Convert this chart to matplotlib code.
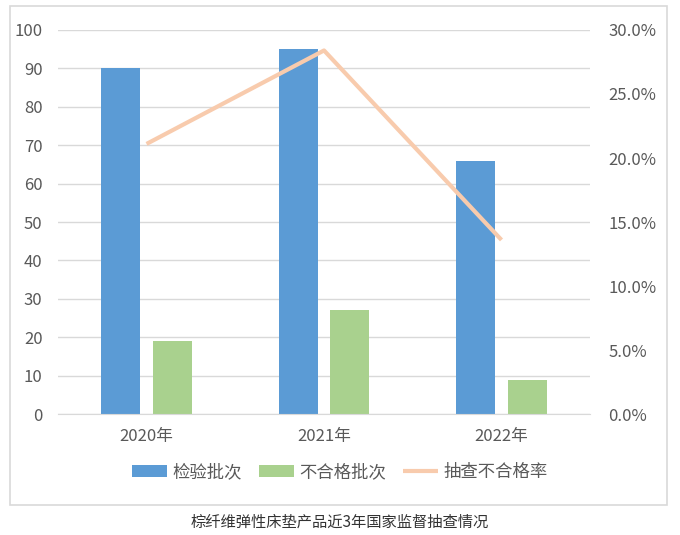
import matplotlib.pyplot as plt
import numpy as np
from matplotlib.patches import Rectangle
from matplotlib.ticker import PercentFormatter

plt.rcParams['font.family'] = ['Noto Sans CJK SC', 'DejaVu Sans']

years = ["2020年", "2021年", "2022年"]
inspected = [90, 95, 66]
failed = [19, 27, 9]
fail_rate = [21.1, 28.4, 13.6]  # %

blue = "#5B9BD5"
green = "#A9D18E"
peach = "#F8CBAD"
text_c = "#595959"
grid_c = "#D9D9D9"

fig = plt.figure(figsize=(6.8, 5.35), dpi=100)
ax = fig.add_axes([0.085, 0.226, 0.783, 0.718])
ax2 = ax.twinx()

x = np.arange(len(years))
w = 0.22
ax.bar(x - 0.145, inspected, w, color=blue, label="检验批次", zorder=2)
ax.bar(x + 0.145, failed, w, color=green, label="不合格批次", zorder=2)
ax2.plot(x, fail_rate, color=peach, lw=3, label="抽查不合格率", solid_capstyle="butt")

ax.set_xlim(-0.5, 2.5)
ax.set_ylim(0, 100)
ax.set_yticks(range(0, 101, 10))
ax2.set_ylim(0, 30)
ax2.set_yticks(range(0, 31, 5))
ax2.yaxis.set_major_formatter(PercentFormatter(decimals=1))
ax.set_xticks(x)
ax.set_xticklabels(years)

ax.grid(axis="y", color=grid_c, lw=1, zorder=0)
for a in (ax, ax2):
    for s in a.spines.values():
        s.set_visible(False)
    a.tick_params(length=0, labelsize=12, labelcolor=text_c)
ax.spines["bottom"].set_visible(True)
ax.spines["bottom"].set_color(grid_c)
ax.tick_params(axis="y", pad=11)
ax.tick_params(axis="x", pad=10)
ax2.tick_params(axis="y", pad=13)

h1, l1 = ax.get_legend_handles_labels()
h2, l2 = ax2.get_legend_handles_labels()
fig.legend(h1 + h2, l1 + l2, loc="center", bbox_to_anchor=(0.5, 0.118), ncol=3,
           frameon=False, fontsize=12.5, labelcolor=text_c, handlelength=2.0,
           handleheight=0.7, columnspacing=1.0, handletextpad=0.3)

fig.patches.append(Rectangle((0.0147, 0.056), 0.966, 0.933, transform=fig.transFigure,
                             fill=False, edgecolor=grid_c, lw=1.2))
fig.text(0.5, 0.024, "棕纤维弹性床垫产品近3年国家监督抽查情况", ha="center", va="center",
         fontsize=11, color="#333333")

fig.savefig("out.png", dpi=100)
